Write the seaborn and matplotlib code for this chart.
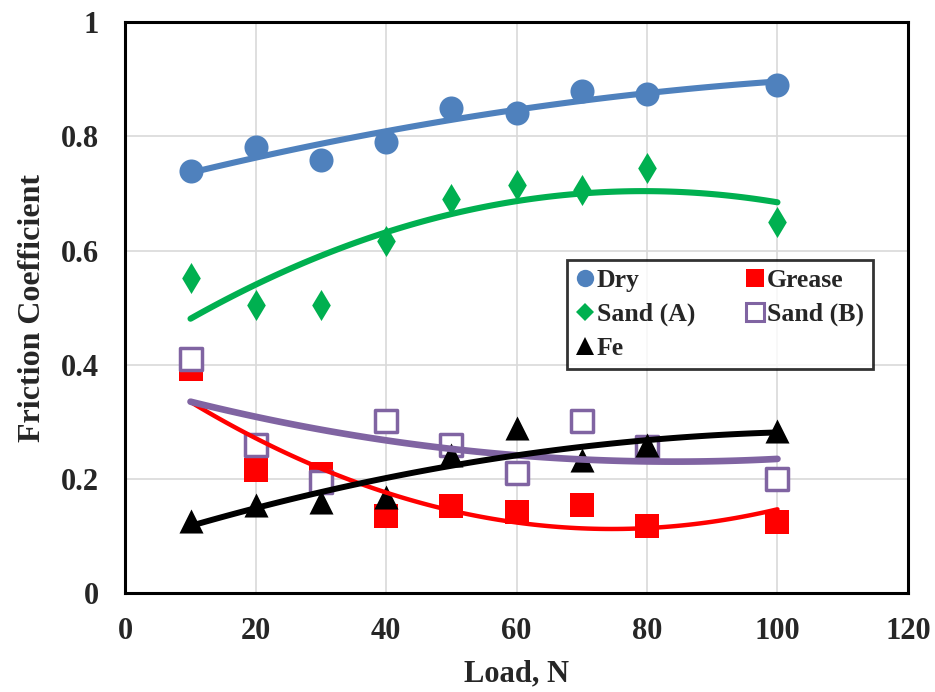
import matplotlib
matplotlib.use("Agg")
import matplotlib.pyplot as plt
from matplotlib.lines import Line2D
from matplotlib.ticker import FuncFormatter
import seaborn as sns

# Load values (N) and friction coefficients
load = [10, 20, 30, 40, 50, 60, 70, 80, 100]
dry = [0.740, 0.781, 0.759, 0.790, 0.849, 0.841, 0.879, 0.875, 0.890]
grease = [0.392, 0.215, 0.209, 0.135, 0.153, 0.142, 0.154, 0.117, 0.125]
sand_a = [0.551, 0.505, 0.504, 0.617, 0.691, 0.714, 0.706, 0.744, 0.650]
sand_b = [0.410, 0.259, 0.195, 0.301, 0.260, 0.210, 0.301, 0.255, 0.200]
fe = [0.126, 0.154, 0.160, 0.169, 0.241, 0.289, 0.233, 0.259, 0.283]

x_ticks = [0, 20, 40, 60, 80, 100, 120]
y_ticks = [0, 0.2, 0.4, 0.6, 0.8, 1.0]

sns.set_style("white")
plt.rcParams['font.family'] = ['Liberation Serif', 'DejaVu Serif']
plt.rcParams['font.weight'] = 'bold'

fig, ax = plt.subplots(figsize=(9.35, 6.92), dpi=100)
fig.subplots_adjust(left=0.134, right=0.971, bottom=0.143, top=0.968)

# (name, values, marker, face colour, edge colour, line colour, line width, size)
series = [
    ("Dry", dry, "o", "#4F81BD", "#4F81BD", "#4F81BD", 4.4, 300),
    ("Grease", grease, "s", "#FF0000", "#FF0000", "#FF0000", 3.2, 300),
    ("Sand (A)", sand_a, "d", "#00B050", "#00B050", "#00B050", 4.4, 250),
    ("Sand (B)", sand_b, "s", "white", "#8064A2", "#8064A2", 4.8, 270),
    ("Fe", fe, "^", "black", "black", "black", 4.3, 300),
]

for name, vals, mk, fc, ec, lc, lw, sz in series:
    # markers
    sns.scatterplot(x=load, y=vals, ax=ax, marker=mk, s=sz, color=fc,
                    edgecolor=ec, linewidth=2.5 if fc == "white" else 0,
                    zorder=3, legend=False)
    # 2nd order polynomial trend line, drawn over the markers
    sns.regplot(x=load, y=vals, ax=ax, order=2, ci=None, scatter=False,
                truncate=True, line_kws=dict(color=lc, lw=lw, zorder=4,
                                             solid_capstyle='round'))

ax.set_xlim(0, 120)
ax.set_ylim(0, 1)
ax.set_xticks(x_ticks)
ax.set_yticks(y_ticks)
ax.yaxis.set_major_formatter(FuncFormatter(lambda v, p: f"{v:g}"))
ax.grid(True, color="#D9D9D9", linewidth=1.2)
ax.set_axisbelow(True)
for sp in ax.spines.values():
    sp.set_visible(True)
    sp.set_color("black")
    sp.set_linewidth(2.2)
ax.tick_params(axis='both', length=0, labelsize=22)
ax.tick_params(axis='x', pad=17)
ax.tick_params(axis='y', pad=19)

ax.set_xlabel("Load, N", fontsize=22, fontweight='bold', labelpad=10)
ax.set_ylabel("Friction Coefficient", fontsize=23, fontweight='bold', labelpad=10)

# legend: markers only, two columns (Dry / Sand (A) / Fe in the first column)
handles = {}
for name, vals, mk, fc, ec, lc, lw, sz in series:
    handles[name] = Line2D([], [], linestyle='none',
                           marker=mk if mk != "d" else "D",
                           markerfacecolor=fc, markeredgecolor=ec,
                           markeredgewidth=2.2 if fc == "white" else 0,
                           markersize=12.5 if mk != "d" else 9)
order = ["Dry", "Sand (A)", "Fe", "Grease", "Sand (B)"]
leg = ax.legend([handles[n] for n in order], order, ncol=2,
                loc='upper left', bbox_to_anchor=(0.5645, 0.583),
                frameon=True, fancybox=False, edgecolor='black',
                fontsize=18.5, handlelength=0.7, handletextpad=0.1,
                columnspacing=2.0, labelspacing=0.42, borderpad=0.35,
                borderaxespad=0)
leg.get_frame().set_linewidth(2)

plt.savefig("out.png", dpi=100)
